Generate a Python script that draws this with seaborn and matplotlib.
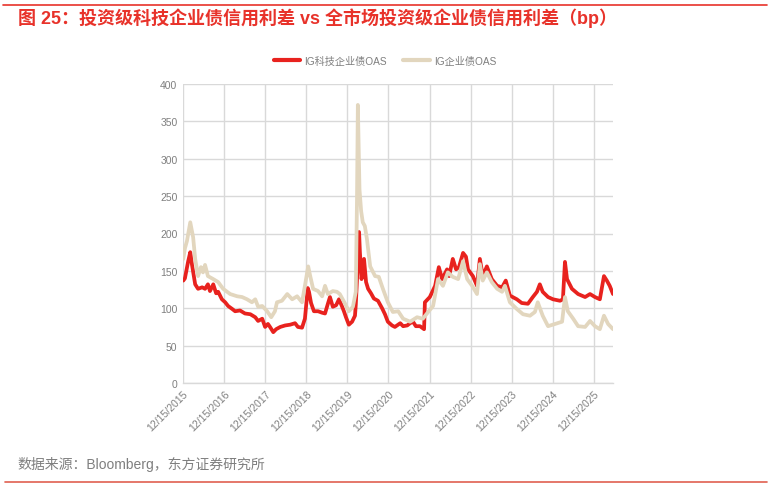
import matplotlib
matplotlib.use("Agg")
import matplotlib.pyplot as plt
import seaborn as sns
import pandas as pd
import numpy as np
from matplotlib.lines import Line2D

# ---------------- data ----------------
tech_year = [2015.96, 2016.00, 2016.08, 2016.13, 2016.17, 2016.25, 2016.32, 2016.42, 2016.49, 2016.56,
             2016.61, 2016.69, 2016.76, 2016.81, 2016.90, 2016.98, 2017.05, 2017.15, 2017.22, 2017.34,
             2017.46, 2017.59, 2017.71, 2017.78, 2017.88, 2017.95, 2018.02, 2018.07, 2018.15, 2018.22,
             2018.32, 2018.44, 2018.56, 2018.68, 2018.75, 2018.85, 2018.92, 2018.99, 2019.02, 2019.07,
             2019.14, 2019.24, 2019.34, 2019.41, 2019.48, 2019.53, 2019.60, 2019.68, 2019.75, 2019.82,
             2019.87, 2019.92, 2019.99, 2020.07, 2020.14, 2020.16, 2020.20, 2020.24, 2020.26, 2020.30,
             2020.36, 2020.41, 2020.46, 2020.53, 2020.60, 2020.70, 2020.80, 2020.87, 2020.94, 2021.04,
             2021.11, 2021.24, 2021.31, 2021.41, 2021.48, 2021.55, 2021.62, 2021.72, 2021.82, 2021.84,
             2021.96, 2022.09, 2022.18, 2022.26, 2022.38, 2022.43, 2022.52, 2022.60, 2022.67, 2022.77,
             2022.84, 2022.89, 2023.01, 2023.11, 2023.18, 2023.25, 2023.35, 2023.47, 2023.60, 2023.72,
             2023.81, 2023.91, 2024.08, 2024.20, 2024.35, 2024.47, 2024.57, 2024.64, 2024.71, 2024.84,
             2024.96, 2025.13, 2025.20, 2025.25, 2025.30, 2025.42, 2025.57, 2025.74, 2025.86, 2025.98,
             2026.10, 2026.20, 2026.27, 2026.34, 2026.42]
tech_oas = [137, 140, 163, 175, 159, 132, 126, 128, 126, 132,
            123, 132, 120, 122, 112, 108, 103, 99, 96, 97,
            93, 92, 88, 83, 86, 75, 79, 75, 68, 72,
            75, 77, 78, 80, 75, 74, 86, 127, 122, 107,
            96, 96, 94, 93, 106, 115, 102, 104, 112, 103,
            96, 88, 78, 82, 90, 105, 150, 202, 175, 139,
            166, 135, 126, 120, 113, 110, 100, 92, 82, 77,
            75, 80, 76, 77, 80, 82, 76, 76, 72, 108,
            115, 130, 155, 139, 152, 143, 166, 152, 155, 174,
            169, 152, 143, 130, 166, 143, 156, 139, 130, 128,
            137, 117, 112, 107, 106, 115, 122, 132, 122, 115,
            112, 110, 112, 162, 139, 126, 119, 115, 119, 115,
            112, 143, 137, 130, 119]

ig_year = [2015.96, 2016.00, 2016.05, 2016.13, 2016.20, 2016.25, 2016.32, 2016.39, 2016.44, 2016.49,
           2016.56, 2016.69, 2016.81, 2016.93, 2017.10, 2017.27, 2017.39, 2017.51, 2017.63, 2017.71,
           2017.78, 2017.88, 2018.00, 2018.10, 2018.19, 2018.24, 2018.36, 2018.49, 2018.61, 2018.73,
           2018.85, 2018.92, 2019.00, 2019.05, 2019.12, 2019.24, 2019.34, 2019.41, 2019.48, 2019.60,
           2019.70, 2019.77, 2019.90, 2019.99, 2020.09, 2020.16, 2020.19, 2020.21, 2020.25, 2020.29,
           2020.33, 2020.38, 2020.43, 2020.51, 2020.63, 2020.72, 2020.82, 2020.94, 2021.06, 2021.19,
           2021.31, 2021.48, 2021.65, 2021.79, 2021.92, 2022.04, 2022.16, 2022.28, 2022.40, 2022.52,
           2022.65, 2022.77, 2022.87, 2022.99, 2023.11, 2023.18, 2023.25, 2023.35, 2023.47, 2023.60,
           2023.72, 2023.79, 2023.91, 2024.08, 2024.23, 2024.40, 2024.52, 2024.59, 2024.71, 2024.84,
           2025.01, 2025.18, 2025.25, 2025.32, 2025.45, 2025.57, 2025.74, 2025.86, 2025.98, 2026.10,
           2026.20, 2026.30, 2026.42]
ig_oas = [166, 180, 190, 215, 195, 166, 143, 155, 148, 158,
          143, 139, 135, 126, 119, 116, 115, 112, 108, 112,
          102, 103, 96, 88, 96, 108, 110, 119, 112, 116,
          108, 130, 156, 143, 126, 123, 116, 130, 119, 123,
          122, 119, 106, 96, 102, 122, 250, 372, 259, 230,
          215, 210, 193, 156, 143, 142, 126, 108, 95, 96,
          86, 82, 88, 86, 95, 103, 139, 130, 148, 142,
          139, 163, 139, 130, 119, 159, 137, 148, 135, 126,
          122, 130, 108, 99, 92, 90, 95, 108, 90, 76,
          79, 82, 115, 96, 86, 76, 75, 83, 76, 72,
          90, 79, 72]

series_names = ["IG科技企业债OAS", "IG企业债OAS"]
y_ticks = [0, 50, 100, 150, 200, 250, 300, 350, 400]
tick_years = list(range(2015, 2026))

title_text = "图 25：投资级科技企业债信用利差 vs 全市场投资级企业债信用利差（bp）"
source_text = "数据来源：Bloomberg，东方证券研究所"


def to_dt(years):
    years = np.asarray(years, dtype=float)
    base = np.floor(years).astype(int)
    frac = years - base
    return pd.to_datetime([f"{b}-01-01" for b in base]) + pd.to_timedelta(frac * 365.25, unit="D")


df = pd.concat([
    pd.DataFrame({"date": to_dt(tech_year), "oas": tech_oas, "series": series_names[0]}),
    pd.DataFrame({"date": to_dt(ig_year), "oas": ig_oas, "series": series_names[1]}),
], ignore_index=True)

# ---------------- style ----------------
sns.set_theme(style="white")
plt.rcParams["font.family"] = ["Liberation Sans", "Noto Sans CJK SC", "DejaVu Sans"]

RED = "#E8221E"
BEIGE = "#E2D6BE"
GRID = "#D9D9D9"
TXT = "#7F7F7F"

fig = plt.figure(figsize=(7.70, 4.89), dpi=100)
ax = fig.add_axes([183 / 770, 1 - 384 / 489, (613 - 183) / 770, (384 - 85) / 489])

sns.lineplot(data=df, x="date", y="oas", hue="series", hue_order=series_names,
             palette=[RED, BEIGE], linewidth=2.7, ax=ax, legend=False, estimator=None, sort=False)

ax.set_ylim(0, 400)
ax.set_yticks(y_ticks)
ax.set_xlim(pd.Timestamp("2015-12-15"), df["date"].max())
xt = [pd.Timestamp(f"{y}-12-15") for y in tick_years]
ax.set_xticks(xt)
ax.set_xticklabels([f"12/15/{y}" for y in tick_years], rotation=45, ha="right",
                   rotation_mode="anchor")
ax.tick_params(axis="both", labelsize=7.5, labelcolor=TXT, length=0, pad=4)
ax.grid(True, color=GRID, linewidth=1.0)
ax.set_axisbelow(True)
for s in ["top", "right", "left"]:
    ax.spines[s].set_visible(False)
ax.spines["bottom"].set_color(GRID)
ax.spines["bottom"].set_linewidth(1.0)
ax.set_xlabel("")
ax.set_ylabel("")

# legend
handles = [Line2D([], [], color=RED, lw=3), Line2D([], [], color=BEIGE, lw=3)]
fig.legend(handles, series_names, loc="center", bbox_to_anchor=(0.5, 1 - 62 / 489), ncol=2,
           frameon=False, fontsize=7.3, labelcolor=TXT, handlelength=2.6, columnspacing=1.6,
           handletextpad=0.4)

# title, source, rules
fig.text(18 / 770, 1 - 18 / 489, title_text, color="#E8322A", fontsize=13, fontweight="bold",
         va="center", ha="left")
fig.text(17 / 770, 1 - 465 / 489, source_text, color=TXT, fontsize=10, va="center", ha="left")
fig.add_artist(Line2D([3 / 770, 767 / 770], [1 - 6 / 489, 1 - 6 / 489], color="#E8322A", lw=1.2))
fig.add_artist(Line2D([5 / 770, 767 / 770], [1 - 483 / 489, 1 - 483 / 489], color="#E06050", lw=1.2))

fig.savefig("out.png", dpi=100)
